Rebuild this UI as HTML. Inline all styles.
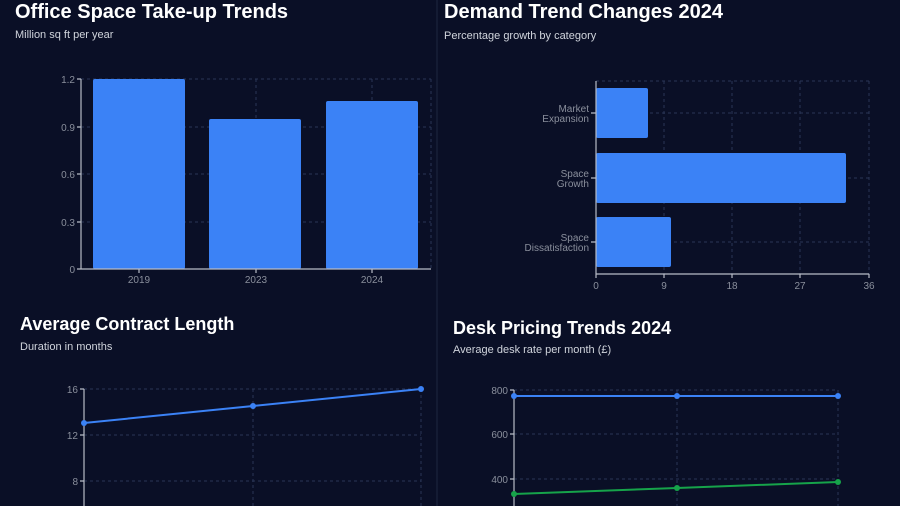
<!DOCTYPE html>
<html><head><style>
html,body{margin:0;padding:0;background:#0a0f26;width:900px;height:506px;overflow:hidden}
svg{display:block;font-family:"Liberation Sans",sans-serif}
.t{fill:#fff;font-weight:bold;font-size:20px}
.t2{fill:#fff;font-weight:bold;font-size:18px}
.s{fill:#d0d4dc;font-size:11px}
.k{fill:#8a8f9c;font-size:10px}
.g{stroke:#2a3556;stroke-dasharray:3 3;stroke-width:1;fill:none}
.a{stroke:#b8bcc6;stroke-width:1.2;fill:none}
</style></head><body>
<svg width="900" height="506" viewBox="0 0 900 506">
<rect width="900" height="506" fill="#0a0f26"/>
<line x1="437" y1="0" x2="437" y2="506" stroke="#1f2740"/>
<!-- chart1 -->
<text class="t" x="15" y="18">Office Space Take-up Trends</text>
<text class="s" x="15" y="38">Million sq ft per year</text>
<g class="g"><path d="M81 79H431M81 127H431M81 174H431M81 222H431M256 79V269M372 79V269M431 79V269"/></g>
<rect x="93" y="79" width="92" height="190" rx="2" fill="#3b82f6"/>
<rect x="209" y="119" width="92" height="150" rx="2" fill="#3b82f6"/>
<rect x="326" y="101" width="92" height="168" rx="2" fill="#3b82f6"/>
<path class="a" d="M81 79V269H431M77 79H81M77 127H81M77 174H81M77 222H81M77 269H81M139 269V273M256 269V273M372 269V273"/>
<g class="k" text-anchor="end"><text x="75" y="83">1.2</text><text x="75" y="131">0.9</text><text x="75" y="178">0.6</text><text x="75" y="226">0.3</text><text x="75" y="273">0</text></g>
<g class="k" text-anchor="middle"><text x="139" y="283">2019</text><text x="256" y="283">2023</text><text x="372" y="283">2024</text></g>
<!-- chart2 -->
<text class="t" x="444" y="18">Demand Trend Changes 2024</text>
<text class="s" x="444" y="39">Percentage growth by category</text>
<g class="g"><path d="M596 81H869M596 113H869M596 178H869M596 242H869M664 81V274M732 81V274M800 81V274M869 81V274"/></g>
<rect x="596" y="88" width="52" height="50" rx="2" fill="#3b82f6"/>
<rect x="596" y="153" width="250" height="50" rx="2" fill="#3b82f6"/>
<rect x="596" y="217" width="75" height="50" rx="2" fill="#3b82f6"/>
<path class="a" d="M596 81V274H869M591 113H596M591 178H596M591 242H596M596 274V278M664 274V278M732 274V278M800 274V278M869 274V278"/>
<g class="k" text-anchor="end"><text x="589" y="112">Market</text><text x="589" y="122">Expansion</text><text x="589" y="177">Space</text><text x="589" y="187">Growth</text><text x="589" y="241">Space</text><text x="589" y="251">Dissatisfaction</text></g>
<g class="k" text-anchor="middle"><text x="596" y="289">0</text><text x="664" y="289">9</text><text x="732" y="289">18</text><text x="800" y="289">27</text><text x="869" y="289">36</text></g>
<!-- chart3 -->
<text class="t2" x="20" y="330">Average Contract Length</text>
<text class="s" x="20" y="350">Duration in months</text>
<g class="g"><path d="M84 389H421M84 435H421M84 481H421M253 389V506M421 389V506"/></g>
<path class="a" d="M84 389V506M80 389H84M80 435H84M80 481H84"/>
<g class="k" text-anchor="end"><text x="78" y="393">16</text><text x="78" y="439">12</text><text x="78" y="485">8</text></g>
<polyline points="84,423 253,406 421,389" fill="none" stroke="#3b82f6" stroke-width="2"/>
<g fill="#3b82f6"><circle cx="84" cy="423" r="3"/><circle cx="253" cy="406" r="3"/><circle cx="421" cy="389" r="3"/></g>
<!-- chart4 -->
<text class="t2" x="453" y="334">Desk Pricing Trends 2024</text>
<text class="s" x="453" y="353">Average desk rate per month (£)</text>
<g class="g"><path d="M514 390H838M514 434H838M514 479H838M677 390V506M838 390V506"/></g>
<path class="a" d="M514 390V506M510 390H514M510 434H514M510 479H514"/>
<g class="k" text-anchor="end"><text x="508" y="394">800</text><text x="508" y="438">600</text><text x="508" y="483">400</text></g>
<polyline points="514,396 677,396 838,396" fill="none" stroke="#3b82f6" stroke-width="2"/>
<g fill="#3b82f6"><circle cx="514" cy="396" r="3"/><circle cx="677" cy="396" r="3"/><circle cx="838" cy="396" r="3"/></g>
<polyline points="514,494 677,488 838,482" fill="none" stroke="#16a34a" stroke-width="2"/>
<g fill="#16a34a"><circle cx="514" cy="494" r="3"/><circle cx="677" cy="488" r="3"/><circle cx="838" cy="482" r="3"/></g>
</svg>
</body></html>
